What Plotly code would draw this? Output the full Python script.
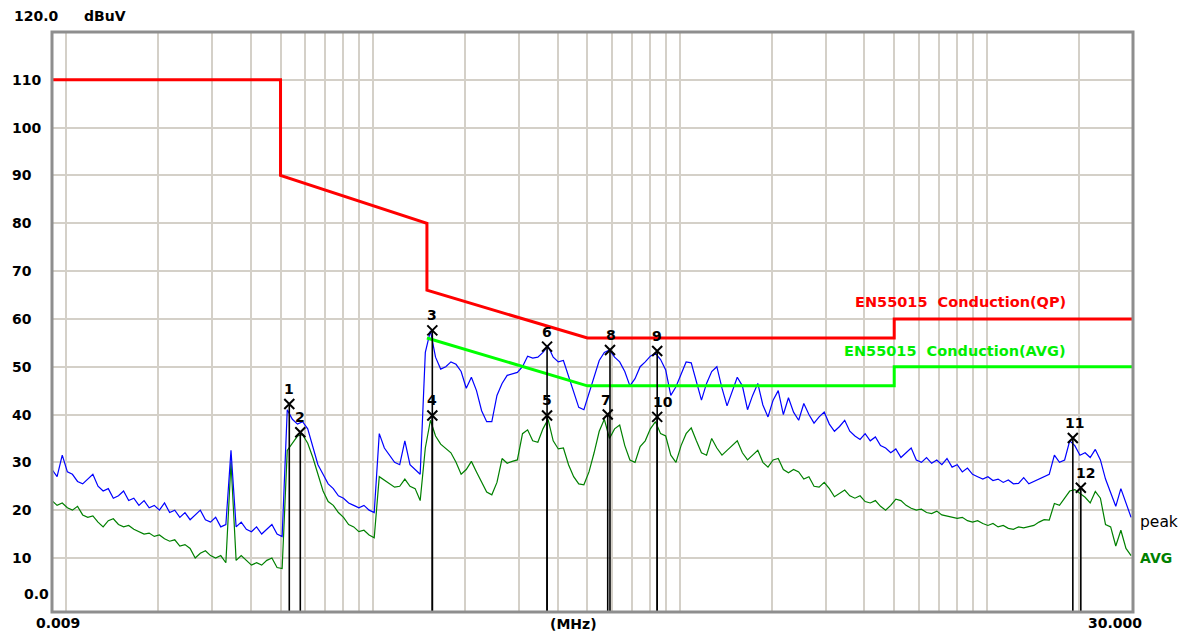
import math
import plotly.graph_objects as go

# ---------------- data ----------------
freq_mhz = [
    0.00900, 0.00935, 0.00972, 0.01010, 0.01049, 0.01090, 0.01133, 0.01177, 0.01223, 0.01271,
    0.01321, 0.01373, 0.01426, 0.01482, 0.01540, 0.01600, 0.01663, 0.01728, 0.01796, 0.01866,
    0.01939, 0.02015, 0.02094, 0.02176, 0.02261, 0.02349, 0.02441, 0.02537, 0.02636, 0.02739,
    0.02846, 0.02957, 0.03073, 0.03193, 0.03318, 0.03448, 0.03583, 0.03723, 0.03869, 0.04020,
    0.04177, 0.04341, 0.04511, 0.04687, 0.04871, 0.05061, 0.05259, 0.05465, 0.05679, 0.05901,
    0.06132, 0.06372, 0.06621, 0.06880, 0.07149, 0.07429, 0.07719, 0.08021, 0.08335, 0.08661,
    0.0900, 0.0935, 0.0972, 0.1010, 0.1049, 0.1090, 0.1133, 0.1177, 0.1223, 0.1271,
    0.1321, 0.1373, 0.1426, 0.1482, 0.1540, 0.1600, 0.1663, 0.1728, 0.1796, 0.1866,
    0.1939, 0.2015, 0.2094, 0.2176, 0.2261, 0.2349, 0.2441, 0.2537, 0.2636, 0.2739,
    0.2846, 0.2957, 0.3073, 0.3193, 0.3318, 0.3448, 0.3583, 0.3723, 0.3869, 0.4020,
    0.4177, 0.4341, 0.4511, 0.4687, 0.4871, 0.5061, 0.5259, 0.5465, 0.5679, 0.5901,
    0.6132, 0.6372, 0.6621, 0.6880, 0.7149, 0.7429, 0.7719, 0.8021, 0.8335, 0.8661,
    0.900, 0.935, 0.972, 1.010, 1.049, 1.090, 1.133, 1.177, 1.223, 1.271,
    1.321, 1.373, 1.426, 1.482, 1.540, 1.600, 1.663, 1.728, 1.796, 1.866,
    1.939, 2.015, 2.094, 2.176, 2.261, 2.349, 2.441, 2.537, 2.636, 2.739,
    2.846, 2.957, 3.073, 3.193, 3.318, 3.448, 3.583, 3.723, 3.869, 4.020,
    4.177, 4.341, 4.511, 4.687, 4.871, 5.061, 5.259, 5.465, 5.679, 5.901,
    6.132, 6.372, 6.621, 6.880, 7.149, 7.429, 7.719, 8.021, 8.335, 8.661,
    9.00, 9.35, 9.72, 10.10, 10.49, 10.90, 11.33, 11.77, 12.23, 12.71,
    13.21, 13.73, 14.26, 14.82, 15.40, 16.00, 16.63, 17.28, 17.96, 18.66,
    19.39, 20.15, 20.94, 21.76, 22.61, 23.49, 24.41, 25.37, 26.36, 27.39,
    28.46, 29.57,
]

peak_dbuv = [
    28.5, 27.0, 31.5, 28.0, 27.5, 26.0, 25.5, 26.5, 27.5, 25.0,
    24.0, 24.5, 22.5, 23.0, 24.0, 22.0, 22.5, 21.0, 22.0, 20.5,
    21.0, 20.0, 21.5, 19.5, 20.0, 18.5, 19.5, 18.0, 19.0, 20.0,
    18.0, 17.5, 18.5, 16.5, 17.0, 32.5, 16.5, 17.5, 16.0, 15.5,
    16.5, 15.0, 16.0, 17.0, 15.0, 14.5, 41.0, 39.0, 38.0, 38.5,
    37.0, 33.5, 29.5, 27.5, 25.5, 24.5, 23.0, 22.5, 21.5, 21.0,
    20.5, 21.0, 20.0, 19.5, 36.0, 33.0, 31.5, 30.0, 29.5, 34.5,
    29.5, 28.5, 27.5, 53.0, 57.5, 52.0, 49.5, 50.0, 51.0, 50.5,
    49.0, 45.5, 47.8, 45.0, 40.8, 38.5, 38.5, 44.0, 46.5, 48.2,
    48.5, 48.8, 50.0, 52.2, 51.8, 52.0, 53.0, 54.3, 52.0, 51.0,
    51.3, 48.0, 44.5, 41.5, 41.0, 44.5, 47.5, 51.3, 53.0, 53.5,
    52.0, 51.0, 49.0, 46.0, 47.5, 50.0, 51.0, 52.2, 52.8, 51.5,
    49.3, 44.0, 45.8, 48.5, 51.0, 50.8, 47.0, 43.0, 46.5, 49.0,
    50.0, 45.5, 41.8, 45.0, 47.8, 46.0, 41.0, 44.0, 46.5, 42.0,
    39.5, 43.0, 45.0, 40.0, 43.5, 40.5, 38.8, 42.3, 40.0, 38.2,
    39.5, 40.5, 38.0, 36.5, 37.5, 38.8, 36.5, 35.5, 34.8, 36.0,
    34.5, 35.3, 33.5, 33.0, 32.0, 32.8, 31.0, 32.0, 33.0, 30.5,
    30.0, 31.0, 29.8, 30.5, 29.5, 30.8, 29.0, 29.5, 28.0, 28.8,
    27.5, 27.0, 26.5, 27.0, 26.2, 26.5, 25.8, 26.3, 25.5, 25.6,
    26.8, 25.5, 26.0, 26.5, 27.0, 27.5, 31.5, 30.0, 30.5, 34.5,
    33.5, 31.5, 32.0, 31.0, 32.7, 30.5, 26.5, 23.5, 20.8, 24.5,
    21.5, 18.5,
]

avg_dbuv = [
    22.0, 21.0, 21.5, 20.5, 20.0, 20.8, 19.0, 18.5, 18.8, 17.5,
    16.5, 17.8, 18.2, 17.0, 16.5, 16.8, 16.0, 15.5, 15.0, 15.2,
    14.5, 14.8, 14.0, 13.5, 13.8, 12.5, 12.8, 12.0, 10.0, 11.0,
    11.5, 10.5, 10.0, 10.5, 9.0, 30.0, 9.5, 10.5, 9.5, 8.5,
    9.0, 8.5, 9.5, 10.0, 8.0, 7.8, 32.5, 34.0, 35.5, 35.8,
    34.0, 31.0, 27.5, 24.0, 21.8, 21.0, 19.5, 18.5, 17.0, 16.5,
    15.5, 15.8, 14.8, 14.2, 27.0, 26.3, 25.5, 24.8, 25.0, 26.5,
    25.0, 24.5, 22.0, 33.0, 38.8, 35.5, 33.8, 32.8, 32.0, 30.0,
    27.5, 28.5, 30.2, 28.0, 25.8, 23.8, 23.2, 25.8, 30.8, 29.8,
    30.2, 30.5, 36.0, 36.8, 34.5, 34.2, 37.0, 39.0, 34.5, 32.8,
    33.0, 29.5, 27.0, 25.5, 25.3, 28.0, 32.0, 36.5, 39.0, 35.0,
    37.0, 37.8, 33.5, 30.5, 30.0, 33.3, 34.5, 37.0, 38.5, 36.0,
    35.5, 31.5, 30.0, 33.5, 36.0, 37.2, 34.5, 32.0, 31.5, 35.0,
    33.0, 31.5, 32.5, 33.5, 34.5, 32.0, 30.5, 31.5, 32.5, 30.0,
    29.0, 30.5, 30.8, 28.5, 27.8, 28.5, 28.0, 26.5, 27.0, 25.0,
    24.8, 25.8, 24.5, 22.8, 23.5, 24.2, 23.0, 22.5, 23.0, 21.8,
    21.5, 22.0, 20.8, 20.0, 21.0, 22.3, 22.0, 21.0, 20.4, 20.0,
    20.2, 19.5, 19.3, 19.8, 19.0, 18.8, 18.6, 18.3, 18.5, 17.8,
    17.5, 17.8, 17.2, 16.8, 17.2, 16.5, 16.8, 16.2, 16.0, 16.5,
    16.3, 16.5, 16.8, 17.5, 18.0, 17.9, 21.4, 21.0, 22.5, 24.0,
    24.3, 23.5, 22.7, 21.5, 23.9, 22.5, 17.0, 16.5, 12.5, 15.8,
    12.0, 10.5,
]

qp_limit_freq = [0.009, 0.05, 0.05, 0.15, 0.15, 0.5, 5.0, 5.0, 30.0]
qp_limit_dbuv = [110, 110, 90, 80, 66, 56, 56, 60, 60]
avg_limit_freq = [0.15, 0.5, 5.0, 5.0, 30.0]
avg_limit_dbuv = [56, 46, 46, 50, 50]

marker_ids = ["1", "2", "3", "4", "5", "6", "7", "8", "9", "10", "11", "12"]
marker_freq = [0.0534, 0.0580, 0.1562, 0.1562, 0.3695, 0.3695, 0.5825, 0.5925, 0.8443, 0.8443, 19.10, 20.28]
marker_dbuv = [42.2, 36.3, 57.6, 39.8, 39.8, 54.2, 40.0, 53.5, 53.3, 39.5, 35.1, 24.7]
marker_label_dx = [0, 0, 0, 0, 0, 0, -2, 1, 0, 6, 2, 5]

y_tick_vals = [10, 20, 30, 40, 50, 60, 70, 80, 90, 100, 110]
y_tick_text = ["10", "20", "30", "40", "50", "60", "70", "80", "90", "100", "110"]

X_RANGE_MHZ = [0.009, 30.0]
Y_RANGE = [-1.3, 120.0]

assert len(freq_mhz) == len(peak_dbuv) == len(avg_dbuv)

# ---------------- layout geometry (page pixels) ----------------
PAGE_OFF = 8                       # default body margin of the html page
PLOT_X0, PLOT_X1 = 52, 1133        # plot frame in page pixels
PLOT_Y0, PLOT_Y1 = 32, 612
W, H = 1189 - PAGE_OFF, 637 - PAGE_OFF
L = PLOT_X0 - PAGE_OFF
T = PLOT_Y0 - PAGE_OFF
PW = PLOT_X1 - PLOT_X0
PH = PLOT_Y1 - PLOT_Y0
R = W - L - PW
B = H - T - PH


def px(xp):
    return (xp - PLOT_X0) / PW


def py(yp):
    return (PLOT_Y1 - yp) / PH


BOLD = dict(family="DejaVu Sans", size=14, color="black", weight="bold")

fig = go.Figure()

fig.add_trace(go.Scatter(x=freq_mhz, y=avg_dbuv, mode="lines",
                         line=dict(color="#008000", width=1.2), hoverinfo="skip"))
fig.add_trace(go.Scatter(x=freq_mhz, y=peak_dbuv, mode="lines",
                         line=dict(color="#0000ff", width=1.2), hoverinfo="skip"))
fig.add_trace(go.Scatter(x=qp_limit_freq, y=qp_limit_dbuv, mode="lines",
                         line=dict(color="#ff0000", width=3)))
fig.add_trace(go.Scatter(x=avg_limit_freq, y=avg_limit_dbuv, mode="lines",
                         line=dict(color="#00ff00", width=3)))

# marker drop lines
vx, vy = [], []
for f, v in zip(marker_freq, marker_dbuv):
    vx += [f, f, None]
    vy += [v, Y_RANGE[0], None]
fig.add_trace(go.Scatter(x=vx, y=vy, mode="lines",
                         line=dict(color="black", width=1.6)))
fig.add_trace(go.Scatter(x=marker_freq, y=marker_dbuv, mode="markers",
                         marker=dict(symbol="x-thin", size=10,
                                     line=dict(color="black", width=2))))

annotations = []
for mid, f, v, dx in zip(marker_ids, marker_freq, marker_dbuv, marker_label_dx):
    annotations.append(dict(x=math.log10(f), y=v, xref="x", yref="y", text=mid,
                            showarrow=False, yshift=15, xshift=dx,
                            font=dict(family="DejaVu Sans", size=14, color="black", weight="bold")))

for val, txt in zip(y_tick_vals, y_tick_text):
    annotations.append(dict(x=px(10), y=val, xref="paper", yref="y", text=txt,
                            showarrow=False, xanchor="left", yanchor="middle", font=BOLD))

annotations += [
    dict(x=px(21.7), y=py(594), xref="paper", yref="paper", text="0.0",
         showarrow=False, xanchor="left", yanchor="middle", font=BOLD),
    dict(x=px(11.7), y=py(16), xref="paper", yref="paper", text="120.0",
         showarrow=False, xanchor="left", yanchor="middle", font=BOLD),
    dict(x=px(81.7), y=py(16), xref="paper", yref="paper", text="dBuV",
         showarrow=False, xanchor="left", yanchor="middle", font=BOLD),
    dict(x=px(57.5), y=py(623), xref="paper", yref="paper", text="0.009",
         showarrow=False, xanchor="center", yanchor="middle", font=BOLD),
    dict(x=px(573), y=py(624), xref="paper", yref="paper", text="(MHz)",
         showarrow=False, xanchor="center", yanchor="middle", font=BOLD),
    dict(x=px(1115), y=py(623), xref="paper", yref="paper", text="30.000",
         showarrow=False, xanchor="center", yanchor="middle", font=BOLD),
    dict(x=px(1068.3), y=py(301.7), xref="paper", yref="paper",
         text="EN55015\u00a0\u00a0Conduction(QP)", showarrow=False,
         xanchor="right", yanchor="middle",
         font=dict(family="DejaVu Sans", size=14.5, color="#ff0000", weight="bold")),
    dict(x=px(1068.3), y=py(350.7), xref="paper", yref="paper",
         text="EN55015\u00a0\u00a0Conduction(AVG)", showarrow=False,
         xanchor="right", yanchor="middle",
         font=dict(family="DejaVu Sans", size=14.5, color="#00ee00", weight="bold")),
    dict(x=px(1138), y=py(521.7), xref="paper", yref="paper", text="peak",
         showarrow=False, xanchor="left", yanchor="middle",
         font=dict(family="DejaVu Sans", size=15.5, color="black")),
    dict(x=px(1138), y=py(558), xref="paper", yref="paper", text="AVG",
         showarrow=False, xanchor="left", yanchor="middle",
         font=dict(family="DejaVu Sans", size=14, color="#008000", weight="bold")),
]

fig.update_layout(
    width=W, height=H, autosize=False,
    margin=dict(l=L, r=R, t=T, b=B, pad=0),
    paper_bgcolor="white", plot_bgcolor="white",
    showlegend=False,
    annotations=annotations,
    shapes=[dict(type="rect", xref="paper", yref="paper", x0=0, x1=1, y0=0, y1=1,
                 line=dict(color="#8e8e8e", width=3), layer="above")],
    xaxis=dict(type="log", range=[math.log10(X_RANGE_MHZ[0]), math.log10(X_RANGE_MHZ[1])],
               dtick="D1", showgrid=True, gridcolor="#d4d0c8", gridwidth=1.5,
               showticklabels=False, ticks="", zeroline=False, showline=False),
    yaxis=dict(range=Y_RANGE, tickvals=y_tick_vals, showgrid=True,
               gridcolor="#d4d0c8", gridwidth=1.5, showticklabels=False,
               ticks="", zeroline=False, showline=False),
)

fig.write_html("out.html")
